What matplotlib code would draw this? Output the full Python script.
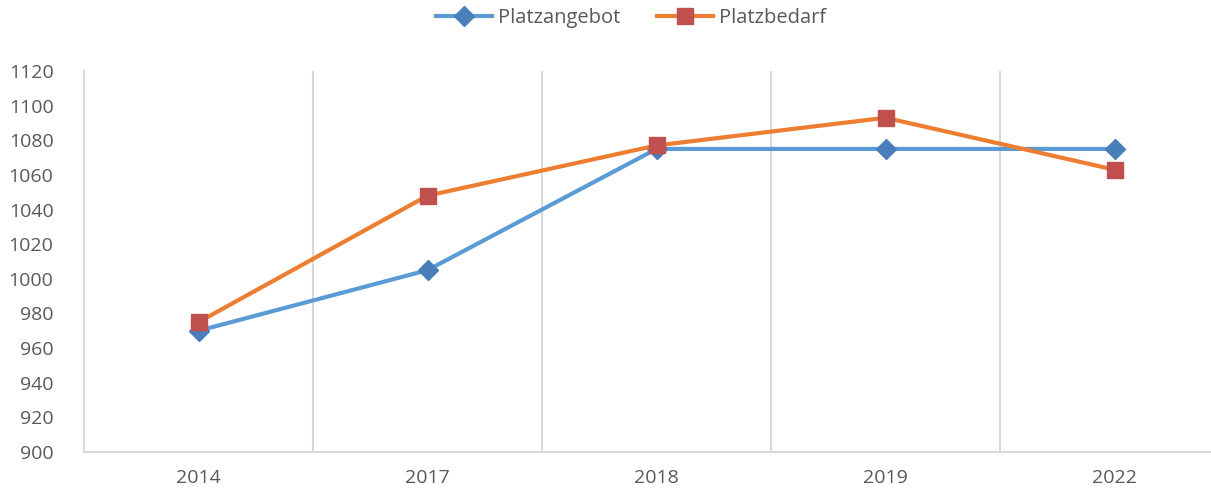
import matplotlib
matplotlib.use('Agg')
import matplotlib.pyplot as plt
import numpy as np

plt.rcParams['font.family'] = ['Open Sans', 'DejaVu Sans']

years = ['2014', '2017', '2018', '2019', '2022']
platzangebot = [970, 1005, 1075, 1075, 1075]
platzbedarf = [975, 1048, 1077, 1093, 1063]

txt = '#595959'
grid = '#d9d9d9'

fig = plt.figure(figsize=(12.11, 4.92), dpi=100)
# plot area runs past the right edge of the picture (cropped like the original)
ax = fig.add_axes([84 / 1211, 1 - 452 / 492, 1145 / 1211, 381 / 492])

x = np.arange(len(years))
ax.plot(x, platzangebot, color='#5b9bd5', lw=3, marker='D', ms=10,
        mfc='#4a7ebb', mec='#4a7ebb', label='Platzangebot', zorder=3)
ax.plot(x, platzbedarf, color='#ed7d31', lw=3, marker='s', ms=12,
        mfc='#c0504d', mec='#c0504d', label='Platzbedarf', zorder=4)

ax.set_xlim(-0.5, len(years) - 0.5)
ax.set_ylim(900, 1120)
ax.set_yticks(np.arange(900, 1121, 20))
ax.set_xticks(x)
ax.set_xticklabels(years)
for b in np.arange(0.5, len(years) - 0.5, 1):
    ax.axvline(b, color=grid, lw=1.5, zorder=1)

for s in ['top', 'right']:
    ax.spines[s].set_visible(False)
for s in ['left', 'bottom']:
    ax.spines[s].set_color(grid)
    ax.spines[s].set_linewidth(1.5)

ax.tick_params(axis='both', length=0, colors=txt)
ax.tick_params(axis='y', labelsize=14, pad=22)
ax.tick_params(axis='x', labelsize=14, pad=12)

fig.legend(loc='center', bbox_to_anchor=(0.521, 0.963), ncol=2, frameon=False,
           fontsize=14.5, labelcolor=txt, handlelength=2.8, columnspacing=1.8,
           handletextpad=0.3)

fig.savefig('out.png', dpi=100)
